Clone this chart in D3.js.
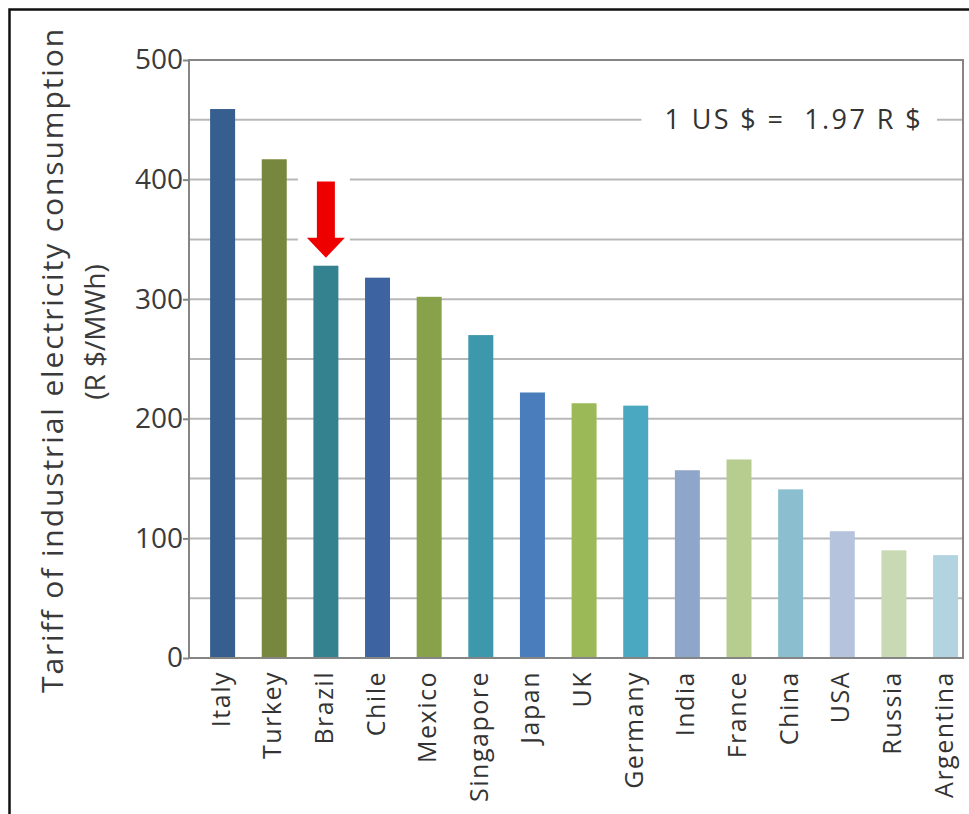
<!DOCTYPE html>
<html>
<head>
<meta charset="utf-8">
<script src="https://cdn.jsdelivr.net/npm/d3@7"></script>
<style>
  body { margin: 0; background: #fff; }
  svg { display: block; }
  text { font-family: "Open Sans", "Noto Sans", sans-serif; }
</style>
</head>
<body>
<svg id="chart" width="969" height="814"></svg>
<script>
// Industrial electricity tariffs by country (R$/MWh)
const countries = ["Italy", "Turkey", "Brazil", "Chile", "Mexico", "Singapore", "Japan",
  "UK", "Germany", "India", "France", "China", "USA", "Russia", "Argentina"];
const tariffs = [459, 417, 328, 318, 302, 270, 222, 213, 211, 157, 166, 141, 106, 90, 86];
const barColors = ["#365e8e", "#77883e", "#34828f", "#3d64a0", "#88a24c", "#3d98ab", "#4a7dbb",
  "#9cb957", "#4aa8c0", "#8fa6cb", "#b6cd8f", "#8bbfd0", "#b5c3dc", "#c9d9b4", "#b1d4e0"];
const yTicks = [0, 100, 200, 300, 400, 500];
const gridValues = [50, 100, 150, 200, 250, 300, 350, 400, 450];
const yTitleLines = ["Tariff of industrial electricity consumption", "(R $/MWh)"];
const exchangeNote = "1 US $ =  1.97 R $";
const noteLevel = 450;
const highlighted = "Brazil";
const arrowFrom = 400;

const svg = d3.select("#chart");
const W = 969, H = 814;
const plot = { left: 189, right: 963, top: 60, bottom: 658 };

// outer black frame (runs off the right and bottom edges)
svg.append("rect")
  .attr("x", 9.5).attr("y", 9.5)
  .attr("width", W + 20).attr("height", H + 20)
  .attr("fill", "none").attr("stroke", "#111").attr("stroke-width", 2.5);

const y = d3.scaleLinear().domain([0, 500]).range([plot.bottom, plot.top]);
const x = d3.scaleBand().domain(countries)
  .range([plot.left, plot.right])
  .paddingInner(0.516).paddingOuter(0.2524).align(0.81);

// horizontal gridlines
svg.append("g").selectAll("line").data(gridValues).join("line")
  .attr("x1", plot.left).attr("x2", plot.right)
  .attr("y1", d => y(d)).attr("y2", d => y(d))
  .attr("stroke", "#b8b8b8").attr("stroke-width", 2);

// bars
svg.append("g").selectAll("rect").data(countries).join("rect")
  .attr("x", d => x(d))
  .attr("width", x.bandwidth())
  .attr("y", (d, i) => y(tariffs[i]))
  .attr("height", (d, i) => y(0) - y(tariffs[i]))
  .attr("fill", (d, i) => barColors[i]);

// plot frame
svg.append("rect")
  .attr("x", plot.left).attr("y", plot.top)
  .attr("width", plot.right - plot.left).attr("height", plot.bottom - plot.top)
  .attr("fill", "none").attr("stroke", "#858585").attr("stroke-width", 2);

// y axis ticks and labels
const yAxis = svg.append("g").attr("transform", `translate(${plot.left},0)`)
  .call(d3.axisLeft(y).tickValues(yTicks).tickSize(6).tickPadding(0).tickFormat(d3.format("d")));
yAxis.select(".domain").remove();
yAxis.selectAll(".tick line").attr("stroke", "#858585").attr("stroke-width", 2);
yAxis.selectAll(".tick text")
  .attr("fill", "#3a3a3a").attr("font-size", 28)
  .attr("font-family", "'Open Sans', sans-serif");

// x axis labels (rotated)
const xAxis = svg.append("g").attr("transform", `translate(0,${plot.bottom})`)
  .call(d3.axisBottom(x).tickSize(0).tickPadding(0));
xAxis.select(".domain").remove();
xAxis.selectAll(".tick text")
  .attr("fill", "#333").attr("font-size", 25)
  .attr("letter-spacing", 1.5)
  .attr("font-family", "'Open Sans', sans-serif")
  .attr("text-anchor", "end")
  .attr("transform", "rotate(-90)")
  .attr("x", -13).attr("y", -2).attr("dy", "0.36em");

// y axis title, two lines
const titleG = svg.append("g").attr("transform", "translate(63, 360) rotate(-90)");
titleG.append("text")
  .attr("text-anchor", "middle")
  .attr("fill", "#3a3a3a").attr("font-size", 30).attr("letter-spacing", 1.9)
  .text(yTitleLines[0]);
titleG.append("text")
  .attr("x", 28).attr("y", 42)
  .attr("text-anchor", "middle")
  .attr("fill", "#3a3a3a").attr("font-size", 28).attr("letter-spacing", 0)
  .text(yTitleLines[1]);

// exchange-rate note sitting on the gridline
const noteG = svg.append("g");
const noteGap = noteG.append("rect").attr("fill", "#fff");
const note = noteG.append("text")
  .attr("x", plot.right - 40).attr("y", y(noteLevel)).attr("dy", "0.35em")
  .attr("text-anchor", "end")
  .style("white-space", "pre")
  .attr("fill", "#333").attr("font-size", 27).attr("letter-spacing", 2.4)
  .text(exchangeNote);
const nb = note.node().getBBox();
noteGap.attr("x", nb.x - 23).attr("y", nb.y).attr("width", nb.width + 37).attr("height", nb.height);

// red arrow pointing at the highlighted bar
const hi = countries.indexOf(highlighted);
const cx = x(highlighted) + x.bandwidth() / 2;
const tipY = y(tariffs[hi]) - 8;
const topY = y(arrowFrom) + 2;
const headH = 20, headHalf = 19, shaftHalf = 9;
svg.append("rect")
  .attr("x", cx - headHalf - 9).attr("y", y(arrowFrom) - 4)
  .attr("width", 2 * headHalf + 14).attr("height", tipY - y(arrowFrom) + 8)
  .attr("fill", "#fff");
svg.append("path")
  .attr("d", d3.line()([
    [cx - shaftHalf, topY], [cx + shaftHalf, topY], [cx + shaftHalf, tipY - headH],
    [cx + headHalf, tipY - headH], [cx, tipY], [cx - headHalf, tipY - headH],
    [cx - shaftHalf, tipY - headH]
  ]) + "Z")
  .attr("fill", "#ee0000");
</script>
</body>
</html>
